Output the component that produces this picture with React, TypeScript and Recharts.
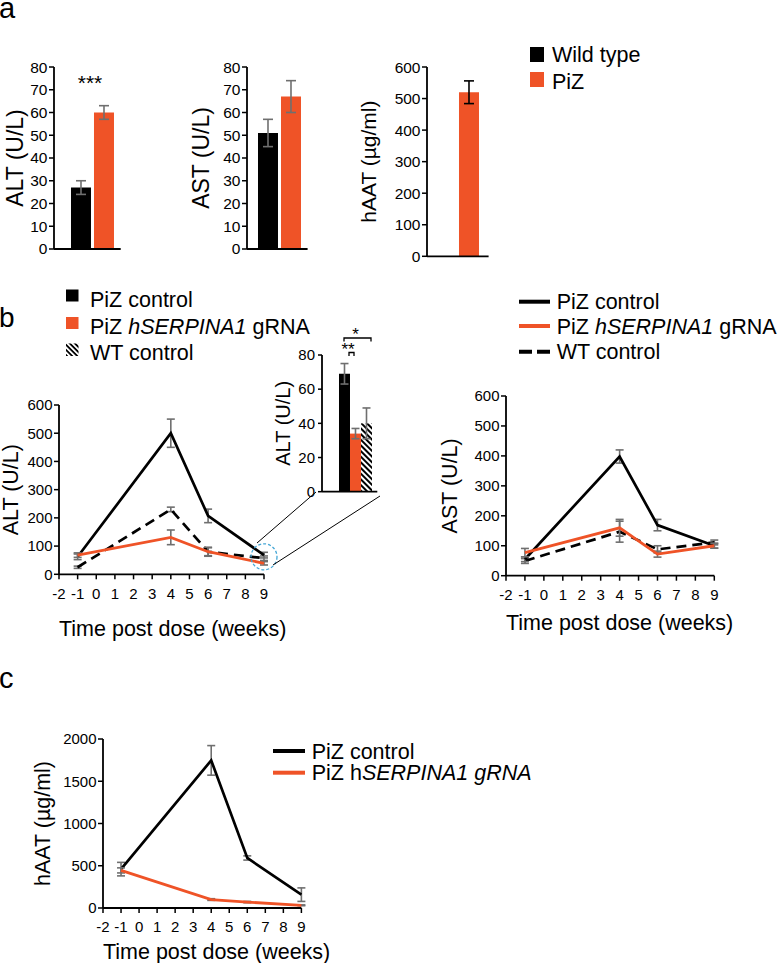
import React from "react";
import {
    BarChart,
    Bar,
    LineChart,
    Line,
    XAxis,
    YAxis,
    ErrorBar,
    ReferenceDot,
} from "recharts";

const FONT = '"Liberation Sans", Arial, Helvetica, sans-serif';
const INK = "#000";
const ORANGE = "#ef5327";
const GREY = "#6f6f6f";
const HALO = "#45a7d6";

// panel a - wild type vs PiZ
const groupsA = ["Wild type", "PiZ"];
const altA = [27, 60];
const altAErr = [3, 3];
const astA = [51, 67];
const astAErr = [6, 7];
const haatA = [null, 520];
const haatAErr = [null, 36];
const ticksA80 = [0, 10, 20, 30, 40, 50, 60, 70, 80];
const ticksA600 = [0, 100, 200, 300, 400, 500, 600];

// panel b - time course after dosing
const weeks = [-1, 4, 6, 9];
const weekTicks = [-2, -1, 0, 1, 2, 3, 4, 5, 6, 7, 8, 9];
const altCtrl = [62, 500, 207, 68];
const altCtrlErr = [10, 50, 24, 10];
const altGrna = [68, 131, 80, 39];
const altGrnaErr = [8, 26, 16, 6];
const altWt = [25, 230, 80, 57];
const altWtErr = [4, 8, 14, 8];
const astCtrl = [55, 398, 169, 100];
const astCtrlErr = [8, 22, 19, 8];
const astGrna = [77, 160, 72, 100];
const astGrnaErr = [14, 28, 10, 8];
const astWt = [49, 147, 88, 111];
const astWtErr = [8, 35, 12, 8];
const ticks600 = [0, 100, 200, 300, 400, 500, 600];

// inset - ALT at week 9
const insetAlt = [69, 34, 40];
const insetErr = [6, 3, 9];
const ticksInset = [0, 20, 40, 60, 80];
const zoomWeek = 9;
const zoomLevel = 62;

// panel c - serum hAAT
const haatCtrl = [460, 1747, 592, 158];
const haatCtrlErr = [80, 175, 25, 80];
const haatGrna = [445, 100, 70, 32];
const haatGrnaErr = [30, 10, 8, 5];
const ticks2000 = [0, 500, 1000, 1500, 2000];

const pairRow = (v: any[], e: any[]) => [
    { name: "", wt: v[0], wtErr: e[0], piz: v[1], pizErr: e[1] },
];
const altAData = pairRow(altA, altAErr);
const astAData = pairRow(astA, astAErr);
const haatAData = pairRow(haatA, haatAErr);

const timeRows = (c: number[], ce: number[], g: number[], ge: number[], w?: number[], we?: number[]) =>
    weeks.map((wk, i) => ({
        week: wk,
        ctrl: c[i],
        ctrlErr: ce[i],
        grna: g[i],
        grnaErr: ge[i],
        wt: w ? w[i] : null,
        wtErr: we ? we[i] : null,
    }));
const altBData = timeRows(altCtrl, altCtrlErr, altGrna, altGrnaErr, altWt, altWtErr);
const astBData = timeRows(astCtrl, astCtrlErr, astGrna, astGrnaErr, astWt, astWtErr);
const haatCData = timeRows(haatCtrl, haatCtrlErr, haatGrna, haatGrnaErr);
const insetData = [
    {
        name: "",
        ctrl: insetAlt[0],
        ctrlErr: insetErr[0],
        grna: insetAlt[1],
        grnaErr: insetErr[1],
        wt: insetAlt[2],
        wtErr: insetErr[2],
    },
];

// plot-area frames (page px): left axis x, top, right, bottom, y-axis width, x-axis height, right room
type Frame = { l: number; t: number; r: number; b: number; yw: number; xh: number; mr: number };
const MT = 12;
const ML = 20;
const MB = 14;
const box = (f: Frame) => {
    const left = f.l - f.yw - ML;
    const top = f.t - MT;
    return {
        left,
        top,
        width: f.r - left + f.mr,
        height: f.b - top + f.xh + MB,
        margin: { top: MT, right: f.mr, bottom: MB, left: ML },
    };
};

const fA1: Frame = { l: 54.3, t: 66.7, r: 121, b: 248.7, yw: 50, xh: 4, mr: 16 };
const fA2: Frame = { l: 246.7, t: 66.7, r: 307.3, b: 248.7, yw: 50, xh: 4, mr: 16 };
const fA3: Frame = { l: 426.7, t: 66.7, r: 488.3, b: 256, yw: 65, xh: 4, mr: 16 };
const fIn: Frame = { l: 321.7, t: 355, r: 377, b: 491.7, yw: 45, xh: 4, mr: 16 };
const fB1: Frame = { l: 59.3, t: 405, r: 264.3, b: 574.3, yw: 55, xh: 61.7, mr: 50 };
const fB2: Frame = { l: 506, t: 396, r: 714.3, b: 575.7, yw: 62, xh: 54.3, mr: 50 };
const fC: Frame = { l: 103.3, t: 738.7, r: 301.7, b: 907.7, yw: 70, xh: 51.3, mr: 50 };

const axisLine = { stroke: INK, strokeWidth: 1.8 };
const tickLine = { stroke: INK, strokeWidth: 1.5 };
const tickText = { fill: INK, fontSize: 15, fontFamily: FONT };

const yLabel = (value: string, offset: number, size = 21.5) => ({
    value,
    angle: -90,
    position: "insideLeft",
    offset,
    fill: INK,
    fontSize: size,
    fontFamily: FONT,
    style: { textAnchor: "middle" },
});
const xLabel = {
    value: "Time post dose (weeks)",
    position: "insideBottomLeft",
    offset: 0,
    fill: INK,
    fontSize: 21.5,
    fontFamily: FONT,
};

function Spot({ f, children }: { f: Frame; children: any }) {
    const b = box(f);
    return <div style={{ position: "absolute", left: b.left, top: b.top }}>{children}</div>;
}

function PairBars({ f, data, label, labelOffset, ticks, max, pad, errColor, labelSize }: any) {
    const b = box(f);
    return (
        <Spot f={f}>
            <BarChart width={b.width} height={b.height} margin={b.margin} data={data} barGap={3}>
                <XAxis
                    dataKey="name"
                    height={f.xh}
                    padding={{ left: pad, right: 0 }}
                    axisLine={axisLine}
                    tickLine={false}
                    tick={false}
                />
                <YAxis
                    width={f.yw}
                    domain={[0, max]}
                    ticks={ticks}
                    interval={0}
                    tickSize={5}
                    tickMargin={1.5}
                    axisLine={axisLine}
                    tickLine={tickLine}
                    tick={{ ...tickText, fontSize: 15.5 }}
                    label={yLabel(label, labelOffset, labelSize)}
                />
                <Bar dataKey="wt" fill={INK} barSize={20} isAnimationActive={false}>
                    <ErrorBar dataKey="wtErr" width={5} strokeWidth={1.6} stroke={errColor} direction="y" />
                </Bar>
                <Bar dataKey="piz" fill={ORANGE} barSize={20} isAnimationActive={false}>
                    <ErrorBar dataKey="pizErr" width={5} strokeWidth={1.6} stroke={errColor} direction="y" />
                </Bar>
            </BarChart>
        </Spot>
    );
}

function TimeCourse({ f, data, label, labelOffset, ticks, max, tickMargin, withWt, children }: any) {
    const b = box(f);
    const err = (key: string) => (
        <ErrorBar dataKey={key} width={4} strokeWidth={1.6} stroke={GREY} direction="y" />
    );
    return (
        <Spot f={f}>
            <LineChart width={b.width} height={b.height} margin={b.margin} data={data}>
                <XAxis
                    type="number"
                    dataKey="week"
                    domain={[-2, 9]}
                    ticks={weekTicks}
                    interval={0}
                    height={f.xh}
                    tickSize={5}
                    tickMargin={tickMargin}
                    axisLine={axisLine}
                    tickLine={tickLine}
                    tick={tickText}
                    label={xLabel}
                />
                <YAxis
                    width={f.yw}
                    domain={[0, max]}
                    ticks={ticks}
                    interval={0}
                    tickSize={5}
                    tickMargin={1.5}
                    axisLine={axisLine}
                    tickLine={tickLine}
                    tick={tickText}
                    label={yLabel(label, labelOffset)}
                />
                {withWt && (
                    <Line
                        dataKey="wt"
                        stroke={INK}
                        strokeWidth={2.7}
                        strokeDasharray="10 6"
                        dot={false}
                        isAnimationActive={false}
                    >
                        {err("wtErr")}
                    </Line>
                )}
                <Line dataKey="ctrl" stroke={INK} strokeWidth={2.7} dot={false} isAnimationActive={false}>
                    {err("ctrlErr")}
                </Line>
                <Line dataKey="grna" stroke={ORANGE} strokeWidth={2.8} dot={false} isAnimationActive={false}>
                    {err("grnaErr")}
                </Line>
                {children}
            </LineChart>
        </Spot>
    );
}

function Inset() {
    const b = box(fIn);
    const err = (key: string) => (
        <ErrorBar dataKey={key} width={4} strokeWidth={1.6} stroke={GREY} direction="y" />
    );
    return (
        <Spot f={fIn}>
            <BarChart width={b.width} height={b.height} margin={b.margin} data={insetData} barGap={0}>
                <defs>
                    <pattern id="hatchInset" width="4" height="4" patternUnits="userSpaceOnUse" patternTransform="rotate(-45)">
                        <rect width="4" height="4" fill="#fff" />
                        <line x1="1" y1="0" x2="1" y2="4" stroke={INK} strokeWidth="2" />
                    </pattern>
                </defs>
                <XAxis
                    dataKey="name"
                    height={fIn.xh}
                    padding={{ left: 12, right: 0 }}
                    axisLine={axisLine}
                    tickLine={false}
                    tick={false}
                />
                <YAxis
                    width={fIn.yw}
                    domain={[0, 80]}
                    ticks={ticksInset}
                    interval={0}
                    tickSize={4}
                    tickMargin={3}
                    axisLine={axisLine}
                    tickLine={tickLine}
                    tick={tickText}
                    label={yLabel("ALT (U/L)", 6.3, 20)}
                />
                <Bar dataKey="ctrl" fill={INK} barSize={11} isAnimationActive={false}>
                    {err("ctrlErr")}
                </Bar>
                <Bar dataKey="grna" fill={ORANGE} barSize={11} isAnimationActive={false}>
                    {err("grnaErr")}
                </Bar>
                <Bar dataKey="wt" fill="url(#hatchInset)" barSize={11} isAnimationActive={false}>
                    {err("wtErr")}
                </Bar>
            </BarChart>
        </Spot>
    );
}

function Overlay() {
    const leg = 21.5;
    return (
        <svg
            width={779}
            height={963}
            style={{ position: "absolute", left: 0, top: 0, pointerEvents: "none" }}
            fontFamily={FONT}
            fill={INK}
        >
            <defs>
                <pattern id="hatchKey" width="3.6" height="3.6" patternUnits="userSpaceOnUse" patternTransform="rotate(-45)">
                    <rect width="3.6" height="3.6" fill="#fff" />
                    <line x1="0.9" y1="0" x2="0.9" y2="3.6" stroke={INK} strokeWidth="1.8" />
                </pattern>
            </defs>

            {/* panel letters */}
            <text x={-1} y={18.3} fontSize={29}>a</text>
            <text x={-1} y={327} fontSize={28}>b</text>
            <text x={-1} y={688} fontSize={29}>c</text>

            {/* panel a legend */}
            <rect x={530} y={47} width={14} height={15} fill={INK} />
            <rect x={530} y={72} width={14} height={15} fill={ORANGE} />
            <text x={552} y={61.7} fontSize={leg}>{groupsA[0]}</text>
            <text x={552} y={88.5} fontSize={leg}>{groupsA[1]}</text>
            <text x={90} y={90.3} fontSize={21} textAnchor="middle">***</text>

            {/* panel b left legend */}
            <rect x={66} y={289.5} width={12.5} height={12} fill={INK} />
            <rect x={66} y={317} width={12.5} height={12} fill={ORANGE} />
            <rect x={66} y={343.5} width={12.5} height={12.5} fill="url(#hatchKey)" />
            <text x={90} y={307} fontSize={leg}>PiZ control</text>
            <text x={90} y={333.5} fontSize={leg}>
                PiZ <tspan fontStyle="italic">hSERPINA1</tspan> gRNA
            </text>
            <text x={90} y={360} fontSize={leg}>WT control</text>

            {/* inset significance */}
            <text x={355.5} y={340.4} fontSize={17} textAnchor="middle">*</text>
            <path d="M344,341.5 V338 H371 V341.5" fill="none" stroke={INK} strokeWidth={1.3} />
            <text x={348} y={355.4} fontSize={17} textAnchor="middle">**</text>
            <path d="M349,356 V352.5 H354 V356" fill="none" stroke={INK} strokeWidth={1.3} />

            {/* zoom connectors */}
            <line x1={257} y1={543} x2={316} y2={492} stroke={INK} strokeWidth={1} />
            <line x1={273} y1={565} x2={380} y2={496} stroke={INK} strokeWidth={1} />

            {/* panel b right legend */}
            <line x1={519} y1={301.7} x2={550} y2={301.7} stroke={INK} strokeWidth={4} />
            <line x1={519} y1={326} x2={550} y2={326} stroke={ORANGE} strokeWidth={4} />
            <line x1={519} y1={351.7} x2={550} y2={351.7} stroke={INK} strokeWidth={4} strokeDasharray="13 5" />
            <text x={556.7} y={309.3} fontSize={leg}>PiZ control</text>
            <text x={556.7} y={333.6} fontSize={leg}>
                PiZ <tspan fontStyle="italic">hSERPINA1</tspan> gRNA
            </text>
            <text x={556.7} y={359.3} fontSize={leg}>WT control</text>

            {/* panel c legend */}
            <line x1={273} y1={751} x2={305} y2={751} stroke={INK} strokeWidth={4} />
            <line x1={273} y1={772.7} x2={305} y2={772.7} stroke={ORANGE} strokeWidth={4} />
            <text x={311.7} y={758.6} fontSize={leg}>PiZ control</text>
            <text x={311.7} y={780.3} fontSize={leg}>
                PiZ h<tspan fontStyle="italic">SERPINA1 gRNA</tspan>
            </text>
        </svg>
    );
}

export default function App() {
    return (
        <div
            style={{
                position: "absolute",
                left: 0,
                top: 0,
                width: 779,
                height: 963,
                background: "#fff",
                fontFamily: FONT,
                overflow: "hidden",
            }}
        >
            <PairBars f={fA1} data={altAData} label="ALT (U/L)" labelOffset={10.4} ticks={ticksA80} max={80} pad={10} errColor={GREY} labelSize={23} />
            <PairBars f={fA2} data={astAData} label="AST (U/L)" labelOffset={4.3} ticks={ticksA80} max={80} pad={4} errColor={GREY} labelSize={23} />
            <PairBars f={fA3} data={haatAData} label="hAAT (µg/ml)" labelOffset={6.3} ticks={ticksA600} max={600} pad={0} errColor={INK} labelSize={21} />

            <TimeCourse f={fB1} data={altBData} label="ALT (U/L)" labelOffset={6.2} ticks={ticks600} max={600} tickMargin={8.7} withWt>
                <ReferenceDot
                    x={zoomWeek}
                    y={zoomLevel}
                    r={13}
                    fill="none"
                    stroke={HALO}
                    strokeWidth={1.3}
                    strokeDasharray="3 2"
                    ifOverflow="visible"
                />
            </TimeCourse>
            <Inset />
            <TimeCourse f={fB2} data={astBData} label="AST (U/L)" labelOffset={5.7} ticks={ticks600} max={600} tickMargin={9} withWt />
            <TimeCourse f={fC} data={haatCData} label="hAAT (µg/ml)" labelOffset={9.7} ticks={ticks2000} max={2000} tickMargin={8} />

            <Overlay />
        </div>
    );
}
